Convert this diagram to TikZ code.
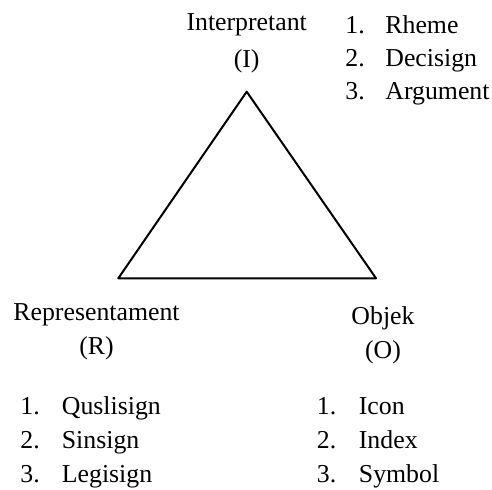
\documentclass[tikz,border=0pt]{standalone}
\usepackage{fontspec}
\setmainfont{Liberation Serif}
\begin{document}
\begin{tikzpicture}[x=0.5pt,y=-0.5pt,line cap=round,line join=round,
  every node/.style={inner sep=0pt,font=\fontsize{12.9}{15}\selectfont},
  lbl/.style={anchor=base},
  num/.style={anchor=base west},
  item/.style={anchor=base west}]
\useasboundingbox (0,0) rectangle (492,490);

% 三角形的三个顶点
\coordinate (top) at (246.7,91.7);
\coordinate (left) at (118.3,278.3);
\coordinate (right) at (376,278.3);
\draw[line width=1pt] (top) -- (left) -- (right) -- cycle;

% 顶点名称
\node[lbl] (interp) at (246.7,31) {Interpretant};
\node[lbl] (interpI) at (246.7,68) {(I)};
\node[lbl] (repr) at (96.5,321) {Representament};
\node[lbl] (reprR) at (96.5,355) {(R)};
\node[lbl] (objek) at (383,325) {Objek};
\node[lbl] (objekO) at (383,359) {(O)};

% 三个列表
\foreach \t [count=\i] in {Rheme,Decisign,Argument}{
  \node[num] (nI\i) at (345,{34+33*(\i-1)}) {\i.};
  \node[item] (tI\i) at (385,{34+33*(\i-1)}) {\t};
}
\foreach \t [count=\i] in {Quslisign,Sinsign,Legisign}{
  \node[num] (nR\i) at (20,{415+34*(\i-1)}) {\i.};
  \node[item] (tR\i) at (61.5,{415+34*(\i-1)}) {\t};
}
\foreach \t [count=\i] in {Icon,Index,Symbol}{
  \node[num] (nO\i) at (316.5,{415+34*(\i-1)}) {\i.};
  \node[item] (tO\i) at (358.5,{415+34*(\i-1)}) {\t};
}

\end{tikzpicture}
\end{document}
